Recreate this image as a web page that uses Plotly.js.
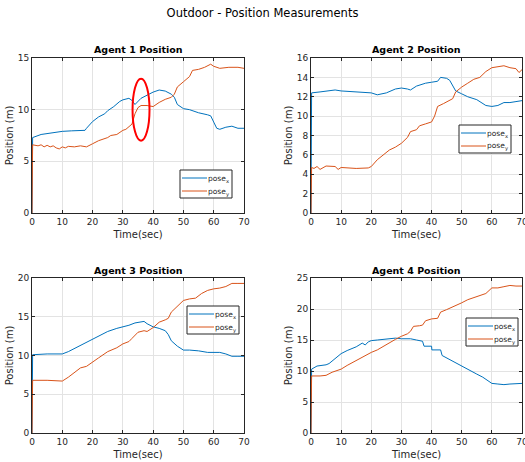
<!DOCTYPE html>
<html><head><meta charset="utf-8">
<script src="https://cdn.plot.ly/plotly-3.0.1.min.js"></script>
<style>html,body{margin:0;padding:0;background:#fff}#c{width:525px;height:462px}</style>
</head><body><div id="c"></div>
<script>
// Agent 1
const t1 = [0,0.2,3,5,8,10,13,15,17.5,18,20,22,24,25,27,29,30,32,33,34,36,38,40,42,44,46,47,48,50,52,55,58,59,60,61,62,64,66,68,70];
const a1x = [0,7.3,7.6,7.7,7.85,7.9,7.95,8.0,8.0,8.2,8.85,9.3,9.6,9.9,10.3,10.8,10.95,11.1,10.9,10.5,11.1,11.4,11.7,11.9,11.8,11.5,11.2,10.5,10.1,10.0,9.7,9.5,9.4,8.8,8.2,8.1,8.3,8.4,8.2,8.2];
const t1y = [0,0.2,2,3,4,5,6,7,8,9,10,11,12,14,16,18,20,22,25,26,28,30,31,32,33,34,35,36,38,40,42,44,46,47,48,50,52,53,55,57,59,60,62,65,68,70];
const a1y = [0,6.6,6.5,6.6,6.4,6.55,6.4,6.5,6.3,6.2,6.4,6.3,6.45,6.4,6.5,6.4,6.7,7.0,7.3,7.5,7.6,8.0,8.1,8.4,8.6,9.6,10.2,10.4,10.4,10.3,10.7,11.0,11.2,11.5,12.2,12.7,13.2,13.8,13.9,14.1,14.4,14.2,14.0,14.1,14.1,14.0];
// Agent 2
const t2x = [0,0.2,3,5,8,10,15,20,22,25,28,30,32,33,35,38,40,42,43,45,46,47,48,50,52,55,57,58,60,62,64,66,68,70];
const a2x = [0,12.4,12.5,12.6,12.7,12.6,12.5,12.4,12.2,12.4,12.8,12.9,12.8,12.7,13.1,13.4,13.5,13.6,14.0,13.9,13.7,13.2,12.6,12.3,12.0,11.7,11.3,11.1,11.0,11.1,11.4,11.4,11.5,11.6];
const t2y = [0,0.2,1,2,3,5,8,9,10,15,19,20,22,24,26,28,30,32,33,35,36,38,40,41,42,44,46,47,48,50,52,54,56,58,60,62,64,66,68,69,70];
const a2y = [0,4.7,4.6,4.8,4.5,4.85,4.8,4.5,4.7,4.6,4.65,4.8,5.5,6.0,6.5,6.8,7.2,7.8,8.4,8.6,9.0,9.2,9.4,10.0,11.0,11.3,11.6,11.8,12.5,13.0,13.4,13.8,14.0,14.6,15.0,15.1,15.2,15.0,14.9,14.5,14.8];
// Agent 3
const t3x = [0,0.2,5,8,10,12,15,18,20,22,25,28,30,32,34,36,37,38,40,42,44,45,46,48,50,52,55,58,60,62,64,66,68,70];
const a3x = [0,10.1,10.2,10.2,10.2,10.5,11.1,11.8,12.2,12.5,13.1,13.5,13.7,13.9,14.2,14.3,14.4,14.1,13.7,13.5,13.2,12.7,11.9,11.2,10.7,10.7,10.6,10.4,10.4,10.4,10.2,9.9,9.9,9.9];
const t3y = [0,0.2,5,8,10,12,14,16,18,20,22,25,28,30,32,33,35,37,38,40,42,44,45,46,48,50,52,54,56,58,60,62,64,66,68,70];
const a3y = [0,6.8,6.8,6.7,6.7,7.2,7.8,8.4,8.6,9.2,9.7,10.5,11.0,11.5,11.8,12.2,13.0,13.2,13.1,13.6,14.3,14.6,14.8,15.6,16.4,17.1,17.3,17.4,18.0,18.4,18.6,18.7,18.9,19.3,19.3,19.3];
// Agent 4
const t4x = [0,0.2,2,5,6,8,10,12,15,17,18,19,20,22,25,28,30,33,35,37,37.5,40,40.1,43,43.5,45,48,50,53,55,57,59,60,62,64,66,68,70];
const a4x = [0,10.3,10.8,11.0,11.2,12.0,12.8,13.3,13.9,14.5,14.2,14.7,14.9,15.0,15.2,15.3,15.2,15.2,15.0,14.8,14.0,14.0,13.4,13.4,12.5,12.1,11.3,10.7,10.0,9.5,9.0,8.4,8.0,7.9,7.8,7.9,8.0,8.0];
const t4y = [0,0.2,3,5,7,10,12,15,18,20,22,25,28,30,32,33,34,36,37,38,40,42,43,45,48,50,52,55,58,60,62,64,66,68,70];
const a4y = [0,9.2,9.2,9.3,9.8,10.3,10.9,11.7,12.4,13.0,13.4,14.3,15.1,15.6,16.0,16.4,17.2,17.3,17.4,18.1,18.4,18.5,19.5,19.9,20.5,21.0,21.5,22.0,22.5,23.4,23.4,23.6,23.8,23.7,23.7];

const titles = ['Agent 1 Position','Agent 2 Position','Agent 3 Position','Agent 4 Position'];
const legendNames = ['pose<sub>x</sub>','pose<sub>y</sub>'];
const yMax = [15,16,20,25];
const yDtick = [5,2,5,5];
const series = [[t1,a1x,t1y,a1y],[t2x,a2x,t2y,a2y],[t3x,a3x,t3y,a3y],[t4x,a4x,t4y,a4y]];

const BLUE = '#0072BD', ORANGE = '#D95319';
const FONT = 'DejaVu Sans, sans-serif';
const W = 525, H = 462;
const xdom = [[32/W,244/W],[311/W,522/W],[32/W,244/W],[311/W,522/W]];
const ydom = [[(H-213)/H,(H-58)/H],[(H-213)/H,(H-58)/H],[(H-433)/H,(H-278)/H],[(H-433)/H,(H-278)/H]];
const legPos = [[180,170],[459,125],[187,306],[466,318]];
const px = v => v/W, py = v => 1 - v/H;

const data = [];
const layout = {
  width: W, height: H,
  margin: {l:0,r:0,t:0,b:0},
  paper_bgcolor: '#fff', plot_bgcolor: '#fff',
  font: {family: FONT, size: 9, color: '#262626'},
  showlegend: false,
  title: {text: 'Outdoor - Position Measurements', x: 0.5, xanchor: 'center', y: 1-13/H, yanchor: 'middle', font: {size: 11.5, color: '#000'}},
  annotations: [], shapes: []
};

for (let i = 0; i < 4; i++) {
  const n = i+1, sfx = i === 0 ? '' : String(n);
  const s = series[i];
  data.push({x: s[0], y: s[1], type: 'scatter', mode: 'lines', name: legendNames[0], line: {color: BLUE, width: 1}, xaxis: 'x'+sfx, yaxis: 'y'+sfx});
  data.push({x: s[2], y: s[3], type: 'scatter', mode: 'lines', name: legendNames[1], line: {color: ORANGE, width: 1}, xaxis: 'x'+sfx, yaxis: 'y'+sfx});
  const common = {
    showgrid: true, gridcolor: '#e3e3e3', zeroline: false,
    showline: true, mirror: 'ticks', linecolor: '#262626', linewidth: 1,
    ticks: 'inside', ticklen: 3, tickcolor: '#262626',
    tickfont: {size: 9, color: '#262626'}, ticklabeloverflow: 'allow'
  };
  layout['xaxis'+sfx] = Object.assign({
    domain: xdom[i], range: [0,70], dtick: 10, anchor: 'y'+sfx,
    title: {text: 'Time(sec)', font: {size: 10, color: '#262626'}, standoff: 5}
  }, common);
  layout['yaxis'+sfx] = Object.assign({
    domain: ydom[i], range: [0,yMax[i]], dtick: yDtick[i], anchor: 'x'+sfx,
    title: {text: 'Position (m)', font: {size: 10, color: '#262626'}, standoff: 2}
  }, common);
  // subplot title
  layout.annotations.push({
    text: '<b>' + titles[i] + '</b>', xref: 'paper', yref: 'paper',
    x: (xdom[i][0]+xdom[i][1])/2, y: ydom[i][1], yshift: 8, xanchor: 'center', yanchor: 'middle',
    showarrow: false, font: {size: 9.5, color: '#000'}
  });
  // legend box (MATLAB style)
  const [lx, ly] = legPos[i];
  layout.shapes.push({type: 'rect', xref: 'paper', yref: 'paper', x0: px(lx), x1: px(lx+52), y0: py(ly), y1: py(ly+28),
    fillcolor: '#fff', line: {color: '#262626', width: 1}, layer: 'above'});
  [[BLUE, 8],[ORANGE, 21]].forEach(([col, dy], k) => {
    layout.shapes.push({type: 'line', xref: 'paper', yref: 'paper', x0: px(lx+2), x1: px(lx+27), y0: py(ly+dy), y1: py(ly+dy),
      line: {color: col, width: 1}, layer: 'above'});
    layout.annotations.push({text: legendNames[k], xref: 'paper', yref: 'paper', x: px(lx+27), y: py(ly+dy+1),
      xanchor: 'left', yanchor: 'middle', showarrow: false, borderpad: 0, font: {size: 7.5, color: '#262626'}});
  });
}
layout.shapes.push({type: 'circle', xref: 'x', yref: 'y', x0: 33.2, x1: 38.8, y0: 7, y1: 13, line: {color: '#ff0000', width: 2}});

Plotly.newPlot('c', data, layout, {staticPlot: true, displayModeBar: false});
</script></body></html>
